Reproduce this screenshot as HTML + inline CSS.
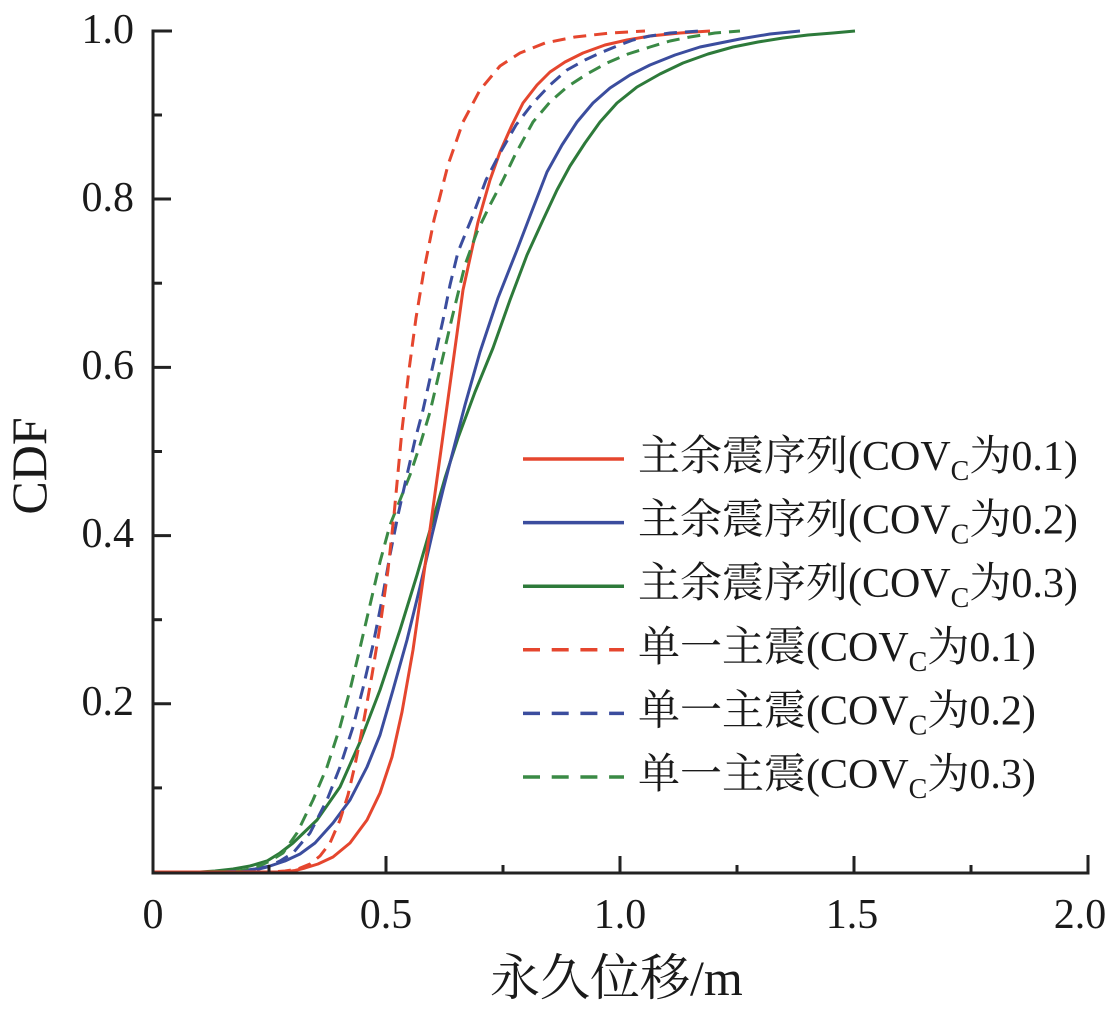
<!DOCTYPE html>
<html>
<head>
<meta charset="utf-8">
<style>
  html,body{margin:0;padding:0;background:#fff;}
  svg{display:block;}
  .t{font-family:"Liberation Serif","Noto Serif CJK SC",serif;fill:#1a1a1a;}
</style>
</head>
<body>
<svg width="1115" height="1015" viewBox="0 0 1115 1015" xmlns="http://www.w3.org/2000/svg">
  <rect width="1115" height="1015" fill="#fff"/>

  <!-- curves -->
  <g fill="none" stroke-width="3" stroke-linejoin="round" stroke-linecap="butt">
    <!-- green solid -->
    <polyline stroke="#2d7a3a" points="152,872 200,872 215,871 233,869 250,866 267,861 280,853 293,843 317,820 340,787 360,742 380,690 400,630 417,575 430,530 445,478 458,438 475,392 493,348 510,300 527,255 543,220 557,190 570,166 585,143 600,122 617,103 637,87 660,74 683,63 708,54 733,47 758,42 783,38 808,35 833,33 855,31"/>
    <!-- blue solid -->
    <polyline stroke="#3b4d9e" points="152,872 225,872 240,871 255,869 270,866 285,861 300,854 315,843 333,823 350,800 367,767 380,735 393,690 407,640 420,587 432,535 443,490 452,455 465,405 480,352 498,298 517,250 530,216 547,172 562,145 577,122 593,103 610,88 630,75 650,65 675,55 700,47 740,39 770,34 800,31"/>
    <!-- red solid -->
    <polyline stroke="#e5462e" points="152,872 285,872 295,870.5 305,868 318,864 333,857 350,843 367,820 380,793 392,757 402,712 413,650 423,580 432,515 441,450 452,370 463,290 478,222 490,180 500,152 512,125 523,103 537,85 550,72 565,62 583,53 605,45 627,40 650,36 680,33 710,31"/>
  </g>
  <g fill="none" stroke-width="3" stroke-dasharray="13 8" stroke-linejoin="round">
    <!-- green dashed -->
    <polyline stroke="#3a8a45" points="152,872 230,872 245,870 257,867 270,861 283,853 297,833 313,800 327,767 340,727 350,690 360,648 370,605 380,562 390,525 400,500 410,475 420,445 430,412 441,365 452,318 465,265 477,232 490,205 503,180 515,155 533,122 550,102 567,87 587,74 607,63 628,54 650,47 670,41 690,37 715,33 740,31"/>
    <!-- blue dashed -->
    <polyline stroke="#3b4d9e" points="152,872 240,872 255,870 267,867 280,861 293,853 310,833 327,800 340,767 353,727 363,688 373,645 382,600 390,555 398,515 407,475 415,440 423,410 433,365 443,320 450,285 458,252 473,215 486,180 500,153 516,125 533,103 550,85 567,70 585,60 600,53 617,46 633,40 650,36 670,33 700,31"/>
    <!-- red dashed -->
    <polyline stroke="#e5462e" points="152,872 270,872 285,871 298,869 310,864 320,856 330,843 340,820 348,795 355,765 363,725 372,675 381,620 388,570 394,515 402,430 409,370 416,318 424,270 434,220 448,165 463,122 480,90 500,66 520,53 545,43 575,37 610,33 645,31"/>
  </g>

  <!-- axes -->
  <g stroke="#222" stroke-width="3" fill="none" stroke-linecap="square">
    <line x1="153" y1="31" x2="153" y2="873"/>
    <line x1="153" y1="873" x2="1088" y2="873"/>
  </g>
  <g stroke="#222" stroke-width="3">
    <!-- y ticks major -->
    <line x1="153" y1="31" x2="172" y2="31"/>
    <line x1="153" y1="199" x2="171" y2="199"/>
    <line x1="153" y1="367.4" x2="171" y2="367.4"/>
    <line x1="153" y1="535.6" x2="171" y2="535.6"/>
    <line x1="153" y1="703.8" x2="171" y2="703.8"/>
    <!-- y ticks minor -->
    <line x1="153" y1="115" x2="162" y2="115"/>
    <line x1="153" y1="283.2" x2="162" y2="283.2"/>
    <line x1="153" y1="451.5" x2="162" y2="451.5"/>
    <line x1="153" y1="619.7" x2="162" y2="619.7"/>
    <line x1="153" y1="787.9" x2="162" y2="787.9"/>
    <!-- x ticks major -->
    <line x1="386" y1="873" x2="386" y2="856"/>
    <line x1="620" y1="873" x2="620" y2="856"/>
    <line x1="854" y1="873" x2="854" y2="856"/>
    <line x1="1088" y1="873" x2="1088" y2="855"/>
    <!-- x ticks minor -->
    <line x1="269" y1="873" x2="269" y2="865"/>
    <line x1="503" y1="873" x2="503" y2="865"/>
    <line x1="737" y1="873" x2="737" y2="865"/>
    <line x1="971" y1="873" x2="971" y2="865"/>
  </g>

  <!-- y tick labels -->
  <g class="t" font-size="42" text-anchor="end">
    <text x="134" y="43">1.0</text>
    <text x="134" y="211">0.8</text>
    <text x="134" y="379">0.6</text>
    <text x="134" y="547">0.4</text>
    <text x="134" y="715">0.2</text>
  </g>
  <!-- x tick labels -->
  <g class="t" font-size="42" text-anchor="middle">
    <text x="153" y="928">0</text>
    <text x="386" y="928">0.5</text>
    <text x="620" y="928">1.0</text>
    <text x="852" y="928">1.5</text>
    <text x="1080" y="928">2.0</text>
  </g>

  <!-- axis titles -->
  <text class="t" font-size="50" text-anchor="middle" transform="translate(46,466) rotate(-90)">CDF</text>
  <text class="t" font-size="50" x="490" y="995">永久位移/m</text>

  <!-- legend -->
  <g stroke-width="3.5">
    <line x1="523" y1="459" x2="624" y2="459" stroke="#e5462e"/>
    <line x1="523" y1="522.6" x2="624" y2="522.6" stroke="#3b4d9e"/>
    <line x1="523" y1="586.2" x2="624" y2="586.2" stroke="#2d7a3a"/>
    <line x1="523" y1="649.8" x2="624" y2="649.8" stroke="#e5462e" stroke-dasharray="17 11.7"/>
    <line x1="523" y1="713.4" x2="624" y2="713.4" stroke="#3b4d9e" stroke-dasharray="17 11.7"/>
    <line x1="523" y1="777" x2="624" y2="777" stroke="#3a8a45" stroke-dasharray="17 11.7"/>
  </g>
  <g class="t" font-size="42">
    <text x="638" y="470">主余震序列(COV<tspan font-size="28" dy="10">C</tspan><tspan dy="-10">为0.1)</tspan></text>
    <text x="638" y="533.6">主余震序列(COV<tspan font-size="28" dy="10">C</tspan><tspan dy="-10">为0.2)</tspan></text>
    <text x="638" y="597.2">主余震序列(COV<tspan font-size="28" dy="10">C</tspan><tspan dy="-10">为0.3)</tspan></text>
    <text x="638" y="661">单一主震(COV<tspan font-size="28" dy="10">C</tspan><tspan dy="-10">为0.1)</tspan></text>
    <text x="638" y="724.6">单一主震(COV<tspan font-size="28" dy="10">C</tspan><tspan dy="-10">为0.2)</tspan></text>
    <text x="638" y="788.2">单一主震(COV<tspan font-size="28" dy="10">C</tspan><tspan dy="-10">为0.3)</tspan></text>
  </g>
</svg>
</body>
</html>
